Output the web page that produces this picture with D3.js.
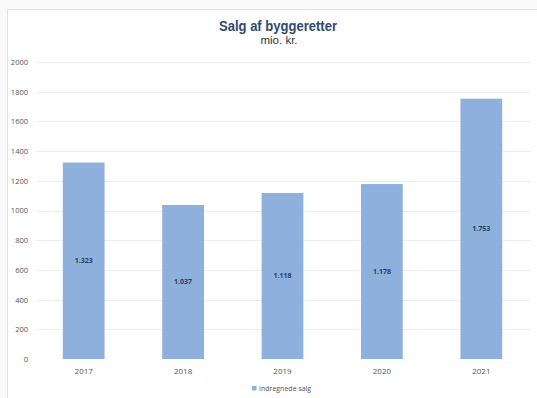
<!DOCTYPE html>
<html>
<head>
<meta charset="utf-8">
<script src="https://cdn.jsdelivr.net/npm/d3@7"></script>
<style>
  html, body { margin: 0; padding: 0; background: #fafafa; }
  svg { display: block; }
</style>
</head>
<body>
<svg id="chart" width="537" height="398"></svg>
<script>
// Salg af byggeretter, mio. kr.
const years = ["2017", "2018", "2019", "2020", "2021"];
const sales = [1323, 1037, 1118, 1178, 1753];
const yTicks = [0, 200, 400, 600, 800, 1000, 1200, 1400, 1600, 1800, 2000];
const seriesName = "Indregnede salg";

const svg = d3.select("#chart");
const W = 537, H = 398;
const barColor = "#8eb0dd";

// chart panel
svg.append("rect")
  .attr("x", 7.5).attr("y", 9.5)
  .attr("width", W).attr("height", H)
  .attr("fill", "#ffffff")
  .attr("stroke", "#e2e2e2");

const x = d3.scaleBand().domain(years).range([34, 531]).paddingInner(0.58).paddingOuter(0.29);
const y = d3.scaleLinear().domain([0, 2000]).range([359, 62]);

// gridlines
svg.append("g")
  .selectAll("line")
  .data(yTicks.filter(d => d > 0))
  .join("line")
  .attr("x1", 36).attr("x2", 530)
  .attr("y1", d => Math.round(y(d)) + 0.5)
  .attr("y2", d => Math.round(y(d)) + 0.5)
  .attr("stroke", "#ededed");

// y axis labels
const yAxis = d3.axisLeft(y).tickValues(yTicks).tickSize(0).tickPadding(0).tickFormat(d3.format("d"));
const gy = svg.append("g").attr("transform", "translate(28,0)").call(yAxis);
gy.select(".domain").remove();
gy.selectAll("text")
  .attr("fill", "#555")
  .style("font-family", "'Open Sans', sans-serif")
  .style("font-size", "7.5px");

// bars
const rows = years.map((k, i) => ({ k, v: sales[i] }));
svg.append("g")
  .selectAll("rect")
  .data(rows)
  .join("rect")
  .attr("x", d => x(d.k))
  .attr("width", x.bandwidth())
  .attr("y", d => y(d.v))
  .attr("height", d => y(0) - y(d.v))
  .attr("fill", barColor);

// value labels, Danish thousands separator
const fmt = v => d3.format(",")(v).replace(/,/g, ".");
svg.append("g")
  .selectAll("text")
  .data(rows)
  .join("text")
  .attr("x", d => x(d.k) + x.bandwidth() / 2)
  .attr("y", d => (y(d.v) + y(0)) / 2)
  .attr("dy", "0.35em")
  .attr("text-anchor", "middle")
  .attr("fill", "#243f66")
  .style("font-family", "'Open Sans', sans-serif")
  .style("font-weight", "bold")
  .style("font-size", "7px")
  .text(d => fmt(d.v));

// x axis labels
const xAxis = d3.axisBottom(x).tickSize(0).tickPadding(0);
const gx = svg.append("g").attr("transform", "translate(0,368)").call(xAxis);
gx.select(".domain").remove();
gx.selectAll("text")
  .attr("fill", "#555")
  .style("font-family", "'Open Sans', sans-serif")
  .style("font-size", "8px");

// title
svg.append("text")
  .attr("x", 278).attr("y", 31)
  .attr("text-anchor", "middle")
  .attr("fill", "#2f4a6d")
  .attr("textLength", 118)
  .attr("lengthAdjust", "spacingAndGlyphs")
  .style("font-family", "'Liberation Sans', Arial, sans-serif")
  .style("font-weight", "bold")
  .style("font-size", "14px")
  .text("Salg af byggeretter");
svg.append("text")
  .attr("x", 279).attr("y", 44)
  .attr("text-anchor", "middle")
  .attr("fill", "#333")
  .style("font-family", "'Liberation Sans', Arial, sans-serif")
  .style("font-size", "11.5px")
  .text("mio. kr.");

// legend
const lg = svg.append("g").attr("transform", "translate(252,391)");
lg.append("rect").attr("x", 0).attr("y", -5).attr("width", 4.5).attr("height", 4.5).attr("fill", barColor);
lg.append("text")
  .attr("x", 7).attr("y", 0)
  .attr("fill", "#555")
  .style("font-family", "'Open Sans', sans-serif")
  .style("font-size", "7px")
  .text(seriesName);
</script>
</body>
</html>
